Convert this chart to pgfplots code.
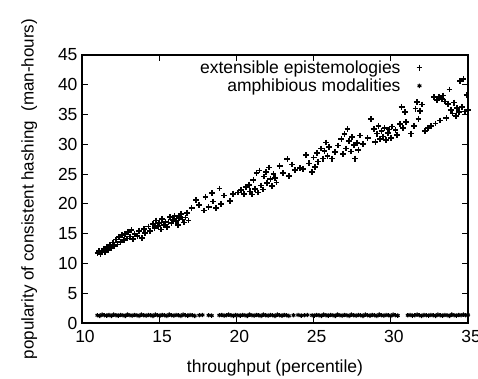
\documentclass[border=0pt]{standalone}
\usepackage{pgfplots}
\pgfplotsset{compat=1.18}
\usepackage{fontspec}
\setmainfont{Liberation Sans}
\begin{document}
\begin{tikzpicture}
\begin{axis}[
  scale only axis, width=386pt, height=268pt,
  xmin=10, xmax=35, ymin=0, ymax=45,
  xtick={10,15,20,25,30,35}, ytick={0,5,10,15,20,25,30,35,40,45},
  /pgf/number format/assume math mode=true,
  tick label style={font=\fontsize{17.5}{19}\selectfont},
  xticklabel style={yshift=-4pt, xshift=3pt},
  yticklabel style={xshift=-1pt},
  xlabel={throughput (percentile)},
  ylabel={popularity of consistent hashing\ \ (man-hours)},
  xlabel style={font=\fontsize{17.5}{19}\selectfont, yshift=-10pt},
  ylabel style={font=\fontsize{17}{19}\selectfont, yshift=14pt},
  axis line style={line width=1.1pt},
  major tick length=6pt,
  every tick/.style={line width=1pt,black},
  legend plot pos=right,
  legend cell align=right,
  legend style={draw=none, fill=none, at={(0.89,0.995)}, anchor=north east,
    font=\fontsize{17.5}{19}\selectfont, row sep=0pt, column sep=14pt},
]
\addplot[only marks, mark=+, mark size=2.9pt, mark options={line width=1.7pt}, black] coordinates {
(11.0,11.8)(11.1,12.1)(11.2,11.6)(11.3,12.0)(11.4,12.4)(11.5,11.9)(11.6,12.8)(11.7,12.3)
(11.8,13.1)(11.9,12.6)(12.0,13.5)(12.1,12.9)(12.2,14.0)(12.3,13.2)(12.4,14.4)(12.5,13.6)
(12.6,14.8)(12.7,13.9)(12.8,15.0)(12.9,14.2)(13.0,15.3)(13.1,14.5)(13.2,15.6)(13.3,14.1)
(13.4,15.0)(13.6,14.6)(13.7,15.5)(13.9,14.3)(14.0,15.8)(14.1,15.1)(14.3,16.2)(14.4,15.4)
(14.6,16.6)(14.7,15.9)(14.8,17.2)(14.9,16.3)(15.0,16.8)(15.1,15.7)(15.2,17.5)(15.3,16.5)
(15.4,17.0)(15.5,16.1)(15.6,16.9)(15.7,17.8)(15.8,16.7)(15.9,17.3)(16.0,18.0)(16.1,17.1)
(16.2,16.5)(16.3,17.6)(16.4,18.3)(16.5,17.4)(16.6,16.9)(16.7,17.7)(16.8,18.5)(16.9,17.2)
(17.1,19.3)(17.4,20.6)(17.6,19.8)(17.9,18.9)(18.0,21.2)(18.2,19.5)(18.4,21.8)(18.5,20.4)
(18.7,19.3)(18.9,22.6)(19.0,20.0)(19.2,21.4)(19.6,20.5)(19.8,21.7)(20.1,21.9)(20.3,22.3)
(20.5,21.7)(20.6,22.8)(20.8,23.2)(20.9,22.1)(21.0,21.6)(21.1,24.0)(21.2,22.5)(21.3,25.2)
(21.4,21.9)(21.5,25.6)(21.6,23.1)(21.7,22.4)(21.8,24.6)(21.9,25.3)(22.0,23.5)(22.1,26.1)
(22.2,24.2)(22.3,23.0)(22.4,25.0)(22.5,24.4)(22.6,23.6)(22.8,26.4)(23.0,25.2)(23.3,27.5)
(23.4,24.7)(23.6,26.6)(23.8,25.7)(24.1,26.0)(24.3,25.9)(24.5,28.2)(24.7,26.8)(24.9,25.3)
(25.0,27.8)(25.1,26.2)(25.2,28.6)(25.3,27.1)(25.5,29.3)(25.6,27.6)(25.7,28.9)(25.8,30.3)
(25.9,28.0)(26.0,29.5)(26.2,27.6)(26.4,28.7)(26.6,29.8)(26.8,30.9)(26.9,28.4)(27.0,31.7)
(27.1,29.3)(27.2,32.6)(27.3,30.6)(27.4,28.8)(27.5,31.2)(27.6,29.9)(27.7,27.6)(27.8,30.2)
(27.9,29.1)(28.0,31.5)(28.2,30.0)(28.5,31.1)(28.7,34.2)(28.9,32.6)(29.0,30.4)(29.1,31.8)
(29.2,33.1)(29.3,30.9)(29.4,32.2)(29.5,31.3)(29.6,32.8)(29.7,30.7)(29.8,31.9)(29.9,32.5)
(30.0,31.1)(30.1,33.0)(30.3,32.4)(30.4,31.6)(30.6,33.4)(30.7,36.3)(30.8,32.7)(30.9,35.4)
(31.0,33.7)(31.3,31.8)(31.5,33.1)(31.6,36.0)(31.7,37.1)(31.8,34.3)(31.9,35.6)(32.0,36.7)
(32.2,32.2)(32.4,32.8)(32.6,33.1)(32.8,37.9)(32.9,33.5)(33.0,37.5)(33.1,38.0)(33.2,34.0)
(33.3,37.6)(33.4,38.2)(33.5,37.2)(33.6,34.4)(33.7,36.8)(33.8,39.2)(33.9,35.8)(34.0,35.2)
(34.1,37.0)(34.2,34.8)(34.3,36.1)(34.4,35.4)(34.5,40.6)(34.6,36.3)(34.7,41.0)(34.8,35.5)
(34.9,38.3)(35.0,35.8)
};
\addlegendentry{extensible epistemologies}
\addplot[only marks, mark=asterisk, mark size=2.2pt, mark options={line width=1.1pt}, black] coordinates {
(11.0,1.3)(11.15,1.2)(11.3,1.4)(11.45,1.3)(11.6,1.25)(11.75,1.35)(11.9,1.2)(12.05,1.4)
(12.2,1.3)(12.35,1.25)(12.5,1.35)(12.65,1.3)(12.8,1.2)(12.95,1.4)(13.1,1.3)(13.25,1.25)
(13.4,1.35)(13.55,1.3)(13.7,1.2)(13.85,1.4)(14.0,1.3)(14.15,1.25)(14.3,1.35)(14.45,1.3)
(14.6,1.2)(14.75,1.4)(14.9,1.3)(15.05,1.25)(15.2,1.35)(15.35,1.3)(15.5,1.2)(15.65,1.4)
(15.8,1.3)(15.95,1.25)(16.1,1.35)(16.25,1.3)(16.4,1.2)(16.55,1.4)(16.7,1.3)(16.85,1.25)
(17.0,1.35)(17.15,1.3)(17.3,1.2)(17.6,1.3)(17.8,1.35)(18.2,1.3)(18.4,1.25)
(18.9,1.3)(19.05,1.35)(19.2,1.25)(19.35,1.3)(19.5,1.4)(19.65,1.3)(19.8,1.2)(19.95,1.35)
(20.1,1.3)(20.25,1.25)(20.4,1.35)(20.55,1.3)(20.7,1.2)(20.85,1.4)(21.0,1.3)(21.15,1.25)
(21.3,1.35)(21.45,1.3)(21.6,1.2)(21.75,1.4)(21.9,1.3)(22.05,1.25)(22.2,1.35)(22.35,1.3)
(22.5,1.2)(22.65,1.4)(22.8,1.3)(22.95,1.25)(23.1,1.35)(23.25,1.3)(23.4,1.2)
(23.7,1.3)(24.0,1.35)(24.2,1.25)(24.4,1.3)(24.6,1.35)
(24.9,1.3)(25.05,1.25)(25.2,1.35)(25.35,1.3)(25.5,1.2)(25.65,1.4)(25.8,1.3)(25.95,1.25)
(26.1,1.35)(26.25,1.3)(26.4,1.2)(26.55,1.4)(26.7,1.3)(26.85,1.25)(27.0,1.35)(27.15,1.3)
(27.3,1.2)(27.45,1.4)(27.6,1.3)(27.75,1.25)(27.9,1.35)(28.05,1.3)(28.2,1.2)(28.35,1.4)
(28.5,1.3)(28.65,1.25)(28.8,1.35)(28.95,1.3)(29.1,1.2)(29.25,1.4)(29.4,1.3)(29.55,1.25)
(29.7,1.35)(29.85,1.3)(30.0,1.2)(30.15,1.4)(30.3,1.3)(30.45,1.25)
(31.1,1.3)(31.25,1.35)(31.4,1.25)(31.55,1.3)(31.7,1.4)(31.85,1.3)(32.0,1.2)(32.15,1.35)
(32.3,1.3)(32.45,1.25)(32.6,1.35)(32.75,1.3)(32.9,1.2)(33.05,1.4)(33.2,1.3)(33.35,1.25)
(33.5,1.35)(33.65,1.3)(33.8,1.2)(33.95,1.4)(34.1,1.3)(34.25,1.25)(34.4,1.35)(34.55,1.3)
(34.7,1.4)(34.85,1.3)(35.0,1.35)
};
\addlegendentry{amphibious modalities}
\end{axis}
\pgfresetboundingbox
\useasboundingbox (current axis.south west) ++(-82pt,-55pt) rectangle ++(478pt,378pt);
\end{tikzpicture}
\end{document}
